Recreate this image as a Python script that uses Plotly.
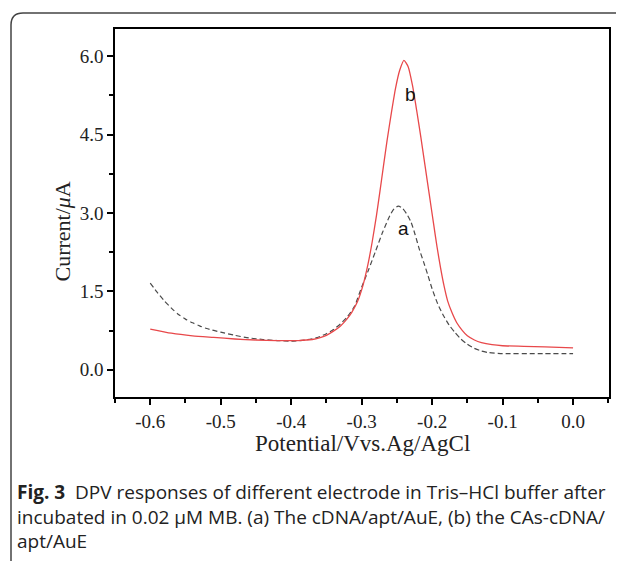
import plotly.graph_objects as go

# Curve b (CAs-cDNA/apt/AuE), red solid
pot_b = [-0.60, -0.57, -0.54, -0.51, -0.48, -0.45, -0.42, -0.39, -0.37, -0.36, -0.35, -0.34,
         -0.33, -0.321, -0.314, -0.306, -0.298, -0.291, -0.285, -0.279, -0.274, -0.269,
         -0.264, -0.258, -0.252, -0.246, -0.24, -0.234, -0.228, -0.222, -0.216, -0.21,
         -0.204, -0.198, -0.193, -0.188, -0.183, -0.178, -0.172, -0.165, -0.157, -0.15,
         -0.14, -0.13, -0.115, -0.10, -0.07, -0.04, 0.0]
cur_b = [0.78, 0.70, 0.65, 0.62, 0.59, 0.57, 0.56, 0.56, 0.58, 0.61, 0.66, 0.74,
         0.84, 0.97, 1.10, 1.30, 1.62, 2.02, 2.45, 2.95, 3.42, 3.90,
         4.38, 4.90, 5.38, 5.73, 5.92, 5.80, 5.45, 4.97, 4.45, 3.90,
         3.35, 2.80, 2.35, 1.95, 1.60, 1.32, 1.10, 0.90, 0.75, 0.65,
         0.57, 0.52, 0.48, 0.46, 0.45, 0.44, 0.42]

# Curve a (cDNA/apt/AuE), dashed gray
pot_a = [-0.60, -0.59, -0.58, -0.57, -0.56, -0.55, -0.54, -0.53, -0.52, -0.50, -0.48, -0.46,
         -0.44, -0.42, -0.40, -0.38, -0.365, -0.35, -0.34, -0.33, -0.32, -0.31, -0.30,
         -0.29, -0.28, -0.27, -0.26, -0.254, -0.248, -0.242, -0.236, -0.23, -0.224, -0.218,
         -0.212, -0.206, -0.20, -0.192, -0.184, -0.176, -0.168, -0.16, -0.15, -0.14, -0.13,
         -0.12, -0.10, -0.05, 0.0]
cur_a = [1.66, 1.48, 1.32, 1.18, 1.06, 0.97, 0.90, 0.84, 0.79, 0.72, 0.66, 0.61,
         0.58, 0.56, 0.55, 0.57, 0.61, 0.69, 0.77, 0.88, 1.02, 1.22, 1.58,
         1.92, 2.28, 2.64, 2.95, 3.08, 3.13, 3.09, 2.98, 2.83, 2.58, 2.30,
         2.06, 1.81, 1.55, 1.26, 1.04, 0.86, 0.72, 0.60, 0.49, 0.41, 0.36,
         0.33, 0.31, 0.31, 0.31]

x_ticks = [-0.6, -0.5, -0.4, -0.3, -0.2, -0.1, 0.0]
x_ticklabels = ["-0.6", "-0.5", "-0.4", "-0.3", "-0.2", "-0.1", "0.0"]
y_ticks = [0.0, 1.5, 3.0, 4.5, 6.0]
y_ticklabels = ["0.0", "1.5", "3.0", "4.5", "6.0"]

fig = go.Figure()
fig.add_trace(go.Scatter(x=pot_a, y=cur_a, mode="lines",
                         line=dict(color="#4a4a4a", width=1.2, dash="5px,3px", shape="spline", smoothing=0.6),
                         showlegend=False))
fig.add_trace(go.Scatter(x=pot_b, y=cur_b, mode="lines",
                         line=dict(color="#e8484a", width=1.3, shape="spline", smoothing=0.6),
                         showlegend=False))

serif = "Liberation Serif, Times New Roman, serif"
axis_common = dict(showline=True, linecolor="black", linewidth=1.5, mirror=True,
                   ticks="outside", ticklen=6, tickwidth=1.5, tickcolor="black",
                   showgrid=False, zeroline=False,
                   tickfont=dict(family=serif, size=19, color="#222"))

fig.update_xaxes(range=[-0.65, 0.051], tickvals=x_ticks, ticktext=x_ticklabels,
                 minor=dict(ticks="outside", dtick=0.05, tick0=0, ticklen=4, tickwidth=1.5, tickcolor="black"),
                 **axis_common)
fig.update_yaxes(range=[-0.52, 6.52], tickvals=y_ticks, ticktext=y_ticklabels,
                 minor=dict(ticks="outside", dtick=0.75, tick0=0, ticklen=4, tickwidth=1.5, tickcolor="black"),
                 **axis_common)

# screen-pixel -> paper conversion (plot area at x 115..609, y 29..397 on screen)
def px(xp):
    return (xp - 115) / 494

def py(yp):
    return (397 - yp) / 368

annotations = [
    dict(x=-0.241, y=2.71, xref="x", yref="y", text="a", showarrow=False,
         font=dict(family="Liberation Sans, Arial", size=19, color="#111")),
    dict(x=-0.231, y=5.26, xref="x", yref="y", text="b", showarrow=False,
         font=dict(family="Liberation Sans, Arial", size=19, color="#111")),
    dict(x=px(48), y=py(232), xref="paper", yref="paper",
         text="Current/<i>μ</i>A", textangle=-90, showarrow=False,
         font=dict(family=serif, size=22, color="#222")),
    dict(x=0.5, y=py(458), xref="paper", yref="paper",
         text="Potential/Vvs.Ag/AgCl", showarrow=False,
         font=dict(family=serif, size=23, color="#222")),
    dict(x=px(15), y=py(477), xref="paper", yref="paper",
         xanchor="left", yanchor="top", align="left", showarrow=False,
         text="<b>Fig. 3</b>  DPV responses of different electrode in Tris–HCl buffer after<br>"
              "incubated in 0.02 μM MB. (a) The cDNA/apt/AuE, (b) the CAs-cDNA/<br>apt/AuE",
         font=dict(family="Open Sans, Noto Sans, sans-serif", size=19, color="#222")),
]

# Rounded outer frame (top-left corner)
L, T, R, B, r = 11, 13, 640, 580, 12
path = (f"M {px(L)},{py(B)} L {px(L)},{py(T + r)} "
        f"Q {px(L)},{py(T)} {px(L + r)},{py(T)} L {px(R)},{py(T)}")

# the page body adds an 8 px offset, so the figure is 616x553 placed at (8, 8)
fig.update_layout(
    width=616, height=553,
    margin=dict(l=107, r=15, t=21, b=164),
    paper_bgcolor="white", plot_bgcolor="white",
    annotations=annotations,
    shapes=[dict(type="path", path=path, xref="paper", yref="paper",
                 line=dict(color="#444", width=1.5))],
)

fig.write_html("out.html")
